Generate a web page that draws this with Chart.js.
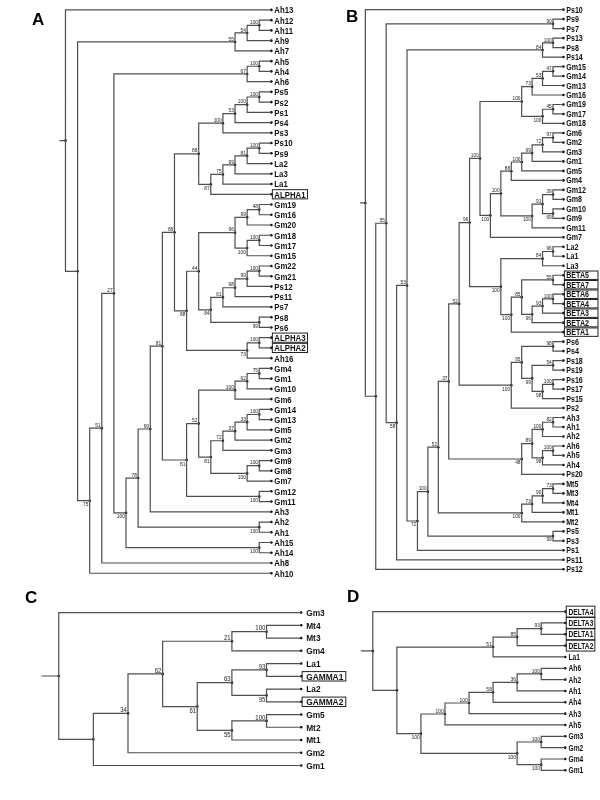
<!DOCTYPE html>
<html>
<head>
<meta charset="utf-8">
<script src="https://cdn.jsdelivr.net/npm/chart.js@4.4.1/dist/chart.umd.min.js"></script>
<style>
  html, body { margin: 0; padding: 0; background: #fff; }
  #page { position: relative; width: 600px; height: 800px; overflow: hidden; }
  #page canvas { position: absolute; }
</style>
</head>
<body>
<div id="page"></div>
<script>
// ---- tree topologies (newick, internal labels = bootstrap support) ----

// panel A
const aAh = '(((Ah12,Ah11)100,Ah9)54,Ah7)55';
const aPsLa = '(((((Ps5,Ps2)100,Ps1)100,Ps4)53,Ps3)100,(((((Ps10,Ps9)100,La2)81,La3)99,La1)75,ALPHA1)87)88';
const aGmPs = '(((((Gm19,Gm16)48,Gm20)99,((Gm18,Gm17)100,Gm15)100)96,(((((Gm22,Gm21)100,Ps12)99,Ps11)98,Ps7)61,(Ps8,Ps6)99)84)44,((ALPHA3,ALPHA2)100,Ah16)73)88';
const aGm = '(((((Gm4,Gm1)75,Gm10)62,Gm6)100,(((((Gm14,Gm13)100,Gm5)33,Gm2)37,Gm3)72,((Gm9,Gm8)100,Gm7)100)81)52,(Gm12,Gm11)100)81';
const treeA = '(Ah13,(' + aAh + ',(((((Ah5,Ah4)100,Ah6)67,(((((' + aPsLa + ',' + aGmPs + ')68,' + aGm +
  ')81,Ah3)69,(Ah2,Ah1)100)78,(Ah15,Ah14)100)100)27,Ah8)51,Ah10)75))';

// panel B
const bPs = '((Ps13,Ps8)100,Ps14)84';
const bGmTop = '((((Gm15,Gm14)47,Gm13)53,Gm16)73,((Gm19,Gm17)45,Gm18)100)100';
const bGmMid = '(((((((Gm6,Gm2)97,Gm3)72,Gm1)99,Gm5)100,Gm4)88,(((Gm12,Gm8)39,(Gm10,Gm9)69)91,Gm11)100)100,Gm7)100';
const bLaBeta = '(((La2,La1)96,La3)84,(((BETA5,BETA7)55,(((BETA6,BETA4)100,BETA3)93,BETA2)96)85,BETA1)100)100';
const bPs2 = '(((Ps6,Ps4)98,((Ps18,Ps19)54,((Ps16,Ps17)100,Ps15)98)99)95,Ps2)100';
const bAh = '((((Ah3,Ah1)82,Ah2)100,((Ah6,Ah5)100,Ah4)98)89,Ps20)48';
const bMt = '((((Mt5,Mt3)73,Mt4)90,Mt1)73,Mt2)100';
const bCore = '((((((' + bGmTop + ',' + bGmMid + ')100,' + bLaBeta + ')96,' + bPs2 + ')52,' + bAh + ')37,' + bMt + ')52,(Ps5,Ps3)99)100';
const treeB = '(Ps10,(((Ps9,Ps7)90,((' + bPs + ',(' + bCore + ',Ps1)72)53,Ps11)58)55,Ps12))';

// panel C
const cMt = '((Mt4,Mt3)100,Gm4)21';
const cGamma = '(((La1,GAMMA1)93,(La2,GAMMA2)95)63,((Gm5,Mt2)100,Mt1)55)61';
const treeC = '(Gm3,(((' + cMt + ',' + cGamma + ')62,Gm2)34,Gm1))';

// panel D
const dDelta = '(((DELTA3,DELTA1)93,DELTA2)85,La1)51';
const dAh = '(((((Ah6,Ah2)100,Ah1)36,Ah4)58,Ah3)100,Ah5)100';
const dGm = '((Gm3,Gm2)100,(Gm4,Gm1)100)100';
const treeD = '(DELTA4,(' + dDelta + ',(' + dAh + ',' + dGm + ')100))';

const boxedLeaves = ['ALPHA1', 'ALPHA2', 'ALPHA3',
  'BETA1', 'BETA2', 'BETA3', 'BETA4', 'BETA5', 'BETA6', 'BETA7',
  'GAMMA1', 'GAMMA2', 'DELTA1', 'DELTA2', 'DELTA3', 'DELTA4'];
const panelLetters = ['A', 'B', 'C', 'D'];
const panelTrees = [treeA, treeB, treeC, treeD];

// ---- page placement of each panel ----
const panelLayout = [
  { left: 0, top: 0, width: 330, height: 595, leafX: 274, rootX: 63, firstY: 6, lastY: 577,
    leafFont: 9.5, leafScale: 0.82, supFont: 5.5, supScale: 0.88, gap: 3, boxPad: 2, boxV: 1.2,
    letterX: 32, letterY: 25 },
  { left: 300, top: 0, width: 300, height: 595, leafX: 566.5, rootX: 363, firstY: 5.7, lastY: 573,
    leafFont: 8.4, leafScale: 0.85, supFont: 5.3, supScale: 0.9, gap: 2.8, boxPad: 9, boxV: 1.2,
    letterX: 346, letterY: 22 },
  { left: 0, top: 590, width: 355, height: 210, leafX: 304, rootX: 56, firstY: 609.3, lastY: 768.3,
    leafFont: 9.5, leafScale: 0.88, supFont: 6.5, supScale: 0.92, gap: 5, boxPad: 2.5, boxV: 1.3,
    letterX: 25, letterY: 603 },
  { left: 330, top: 590, width: 270, height: 210, leafX: 568.3, rootX: 370, firstY: 608.3, lastY: 773.3,
    leafFont: 8.5, leafScale: 0.78, supFont: 5.5, supScale: 0.9, gap: 3.3, boxPad: 1.5, boxV: 2.4,
    letterX: 347, letterY: 602 }
];

const FONT = '"Liberation Sans", Arial, Helvetica, sans-serif';

function parseNewick(s) {
  let i = 0;
  function node() {
    const n = { children: [], name: '' };
    if (s[i] === '(') {
      i++;
      n.children.push(node());
      while (s[i] === ',') { i++; n.children.push(node()); }
      i++; // closing paren
    }
    let lab = '';
    while (i < s.length && ',()'.indexOf(s[i]) < 0) lab += s[i++];
    n.name = lab.trim();
    return n;
  }
  return node();
}

function layoutTree(root) {
  const leaves = [], nodes = [];
  (function walk(n, parent, idx) {
    n.parent = parent;
    n.idx = idx;
    nodes.push(n);
    if (!n.children.length) {
      n.h = 0;
      n.y = leaves.length;
      leaves.push(n);
      return;
    }
    n.children.forEach((c, k) => walk(c, n, k));
    n.h = 1 + Math.max(...n.children.map(c => c.h));
    n.y = (n.children[0].y + n.children[n.children.length - 1].y) / 2;
  })(root, null, 0);
  return { root, leaves, nodes, H: root.h };
}

function drawText(ctx, txt, x, y, size, sx, bold, align) {
  ctx.save();
  ctx.font = (bold ? 'bold ' : '') + size + 'px ' + FONT;
  ctx.textAlign = align || 'left';
  ctx.textBaseline = 'alphabetic';
  ctx.translate(x, y);
  ctx.scale(sx, 1);
  ctx.fillText(txt, 0, 0);
  const w = ctx.measureText(txt).width * sx;
  ctx.restore();
  return w;
}

function makeLabelPlugin(tree, cfg, letter) {
  return {
    id: 'treeLabels',
    afterDatasetsDraw(chart) {
      const ctx = chart.ctx;
      const xs = chart.scales.x, ys = chart.scales.y;
      const tipX = xs.getPixelForValue(0);
      const capLeaf = cfg.leafFont * 0.716;
      ctx.fillStyle = '#111';
      ctx.strokeStyle = '#222';
      ctx.lineWidth = 1;
      tree.leaves.forEach(leaf => {
        const py = ys.getPixelForValue(leaf.y);
        const w = drawText(ctx, leaf.name, tipX + cfg.gap, py + capLeaf / 2, cfg.leafFont, cfg.leafScale, true);
        if (boxedLeaves.indexOf(leaf.name) >= 0) {
          const bx = tipX + 1;
          ctx.strokeRect(bx, py - capLeaf / 2 - cfg.boxV, w + cfg.gap - 1 + cfg.boxPad, capLeaf + 2 * cfg.boxV);
        }
      });
      const capSup = cfg.supFont * 0.716;
      ctx.fillStyle = '#222';
      tree.nodes.forEach(n => {
        if (!n.children.length || !n.name || !n.parent) return;
        const px = xs.getPixelForValue(-n.h) - 1.2;
        const py = ys.getPixelForValue(n.y);
        const by = n.idx === 0 ? py - 1.3 : py + 1.6 + capSup;
        drawText(ctx, n.name, px, by, cfg.supFont, cfg.supScale, false, 'right');
      });
      ctx.fillStyle = '#000';
      drawText(ctx, letter, cfg.letterX - cfg.left, cfg.letterY - cfg.top, 17, 1, true);
    }
  };
}

function buildPanel(k) {
  const cfg = panelLayout[k];
  const tree = layoutTree(parseNewick(panelTrees[k]));
  const nLeaves = tree.leaves.length;
  const step = (cfg.leafX - cfg.rootX) / tree.H;
  const leafXL = cfg.leafX - cfg.left;
  const sp = (cfg.lastY - cfg.firstY) / (nLeaves - 1);
  const firstYL = cfg.firstY - cfg.top;

  const segs = [];
  tree.nodes.forEach(n => {
    if (!n.children.length) return;
    const a = n.children[0], b = n.children[n.children.length - 1];
    segs.push({ x: -a.h, y: a.y }, { x: -n.h, y: a.y }, { x: -n.h, y: b.y }, { x: -b.h, y: b.y },
      { x: NaN, y: NaN });
  });
  segs.push({ x: -(tree.H + 0.5), y: tree.root.y }, { x: -tree.H, y: tree.root.y }, { x: NaN, y: NaN });
  const dots = tree.nodes.map(n => ({ x: -n.h, y: n.y }));

  const canvas = document.createElement('canvas');
  canvas.width = cfg.width;
  canvas.height = cfg.height;
  canvas.style.left = cfg.left + 'px';
  canvas.style.top = cfg.top + 'px';
  canvas.style.width = cfg.width + 'px';
  canvas.style.height = cfg.height + 'px';
  document.getElementById('page').appendChild(canvas);

  new Chart(canvas, {
    type: 'scatter',
    data: {
      datasets: [
        { data: segs, showLine: true, spanGaps: false, borderColor: '#4e4e4e', borderWidth: 1.2,
          pointRadius: 0, tension: 0 },
        { data: dots, showLine: false, pointRadius: 1.3, pointBackgroundColor: '#000',
          pointBorderWidth: 0 }
      ]
    },
    options: {
      responsive: false,
      animation: false,
      devicePixelRatio: 1,
      events: [],
      layout: { padding: 0 },
      plugins: { legend: { display: false }, tooltip: { enabled: false }, title: { display: false } },
      scales: {
        x: { type: 'linear', display: false, min: -leafXL / step, max: (cfg.width - leafXL) / step },
        y: { type: 'linear', display: false, reverse: true,
             min: -firstYL / sp, max: (cfg.height - firstYL) / sp }
      }
    },
    plugins: [makeLabelPlugin(tree, cfg, panelLetters[k])]
  });
}

for (let k = 0; k < panelTrees.length; k++) buildPanel(k);
</script>
</body>
</html>
